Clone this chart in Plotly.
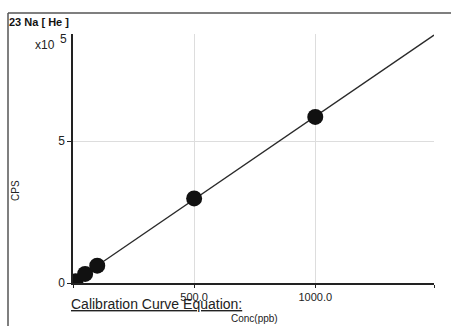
import numpy as np
import plotly.graph_objects as go

# Data
conc_ppb = [10, 50, 100, 500, 1000]
cps = [6.0e3, 3.2e4, 6.1e4, 2.98e5, 5.85e5]
x_tick_vals = [0, 500, 1000, 1490]
x_tick_text = ["", "500.0", "1000.0", ""]
y_tick_vals = [0, 5e5]
y_tick_text = ["0", "5"]
x_max = 1490

slope, intercept = np.polyfit(conc_ppb, cps, 1)
fit_x = [0, x_max]
fit_y = [intercept + slope * v for v in fit_x]

FONT = "Liberation Sans Narrow, Liberation Sans, Arial, sans-serif"

fig = go.Figure()
fig.add_trace(go.Scatter(x=fit_x, y=fit_y, mode="lines",
                         line=dict(color="#2a2a2a", width=1.3), hoverinfo="skip"))
fig.add_trace(go.Scatter(x=conc_ppb, y=cps, mode="markers",
                         marker=dict(size=16, color="#111111"), cliponaxis=True))

L, R, T, B = 73, 17, 34, 43
W, H = 451, 326
pw, ph = W - L - R, H - T - B

def px(x):
    return (x - L) / pw

def py(y):
    return (H - B - y) / ph

fig.update_layout(
    width=W, height=H,
    margin=dict(l=L, r=R, t=T, b=B),
    paper_bgcolor="white", plot_bgcolor="white",
    showlegend=False,
    font=dict(family=FONT, size=11, color="#222222"),
    xaxis=dict(range=[0, x_max], tickvals=x_tick_vals, ticktext=x_tick_text,
               showgrid=True, gridcolor="#dddddd", gridwidth=1,
               showline=True, linecolor="#222222", linewidth=1.5,
               ticks="outside", ticklen=3, tickcolor="#222222",
               zeroline=False, tickfont=dict(size=11, family=FONT)),
    yaxis=dict(range=[0, 8.77e5], tickvals=y_tick_vals, ticktext=y_tick_text,
               showgrid=True, gridcolor="#dddddd", gridwidth=1,
               showline=True, linecolor="#222222", linewidth=1.5,
               ticks="outside", ticklen=4, tickcolor="#222222",
               zeroline=False, tickfont=dict(size=12, family=FONT)),
)

# frame lines
fig.add_shape(type="line", xref="paper", yref="paper",
              x0=px(8), x1=px(452), y0=py(13), y1=py(13),
              line=dict(color="#555555", width=1.5))
fig.add_shape(type="line", xref="paper", yref="paper",
              x0=px(8), x1=px(8), y0=py(13), y1=py(330),
              line=dict(color="#555555", width=1.5))

anns = [
    dict(x=px(7), y=py(22), text="<b>23 Na [ He ]</b>", xanchor="left", yanchor="middle",
         font=dict(size=11, family=FONT, color="#111111")),
    dict(x=px(33), y=py(45), text="x10", xanchor="left", yanchor="middle",
         font=dict(size=12, family=FONT)),
    dict(x=px(58), y=py(39), text="5", xanchor="left", yanchor="middle",
         font=dict(size=12, family=FONT)),
    dict(x=px(15), y=py(191), text="CPS", textangle=-90, xanchor="center", yanchor="middle",
         font=dict(size=10, family=FONT)),
    dict(x=px(69), y=py(304), text="<u>Calibration Curve Equation:</u>", xanchor="left",
         yanchor="middle", font=dict(size=14, family=FONT, color="#222222")),
    dict(x=px(254), y=py(318), text="Conc(ppb)", xanchor="center", yanchor="middle",
         font=dict(size=10, family=FONT)),
]
for a in anns:
    a.update(xref="paper", yref="paper", showarrow=False)
    fig.add_annotation(**a)

fig.write_html("out.html")
